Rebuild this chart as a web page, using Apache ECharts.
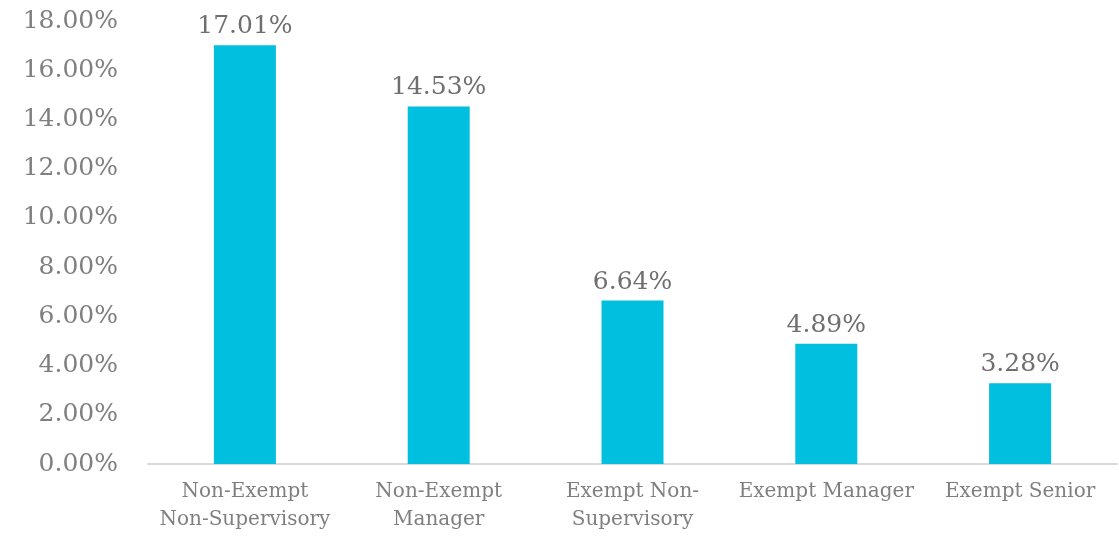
<!DOCTYPE html>
<html><head><meta charset="utf-8">
<script src="https://cdn.jsdelivr.net/npm/echarts@6/dist/echarts.min.js"></script>
<style>html,body{margin:0;padding:0;background:#fff}#c{width:1119px;height:538px}</style>
</head><body><div id="c"></div>
<script>
const categories = ["Non-Exempt\nNon-Supervisory", "Non-Exempt\nManager", "Exempt Non-\nSupervisory", "Exempt Manager", "Exempt Senior"];
const values = [17.01, 14.53, 6.64, 4.89, 3.28];
const yTicks = { min: 0, max: 18, interval: 2 };
const FONT = "DejaVu Serif";
const chart = echarts.init(document.getElementById('c'), null, {renderer: 'canvas'});
chart.setOption({
  animation: false,
  grid: { left: 148, right: 2, top: 21, bottom: 74, containLabel: false },
  xAxis: {
    type: 'category', data: categories,
    axisLine: { lineStyle: { color: '#d9d9d9', width: 2 } },
    axisTick: { show: false },
    axisLabel: { color: '#7f7f7f', fontFamily: FONT, fontSize: 20, lineHeight: 28, margin: 14, interval: 0 }
  },
  yAxis: {
    type: 'value', min: yTicks.min, max: yTicks.max, interval: yTicks.interval,
    splitLine: { show: false },
    axisLine: { show: false }, axisTick: { show: false },
    axisLabel: { color: '#7f7f7f', fontFamily: FONT, fontSize: 25, margin: 30,
      formatter: v => v.toFixed(2) + '%' }
  },
  series: [{
    type: 'bar', data: values, barWidth: 62,
    itemStyle: { color: '#00bfdf' },
    label: { show: true, position: 'top', distance: 6, color: '#6f6f6f', fontFamily: FONT, fontSize: 25,
      formatter: p => p.value.toFixed(2) + '%' }
  }]
});
</script></body></html>
